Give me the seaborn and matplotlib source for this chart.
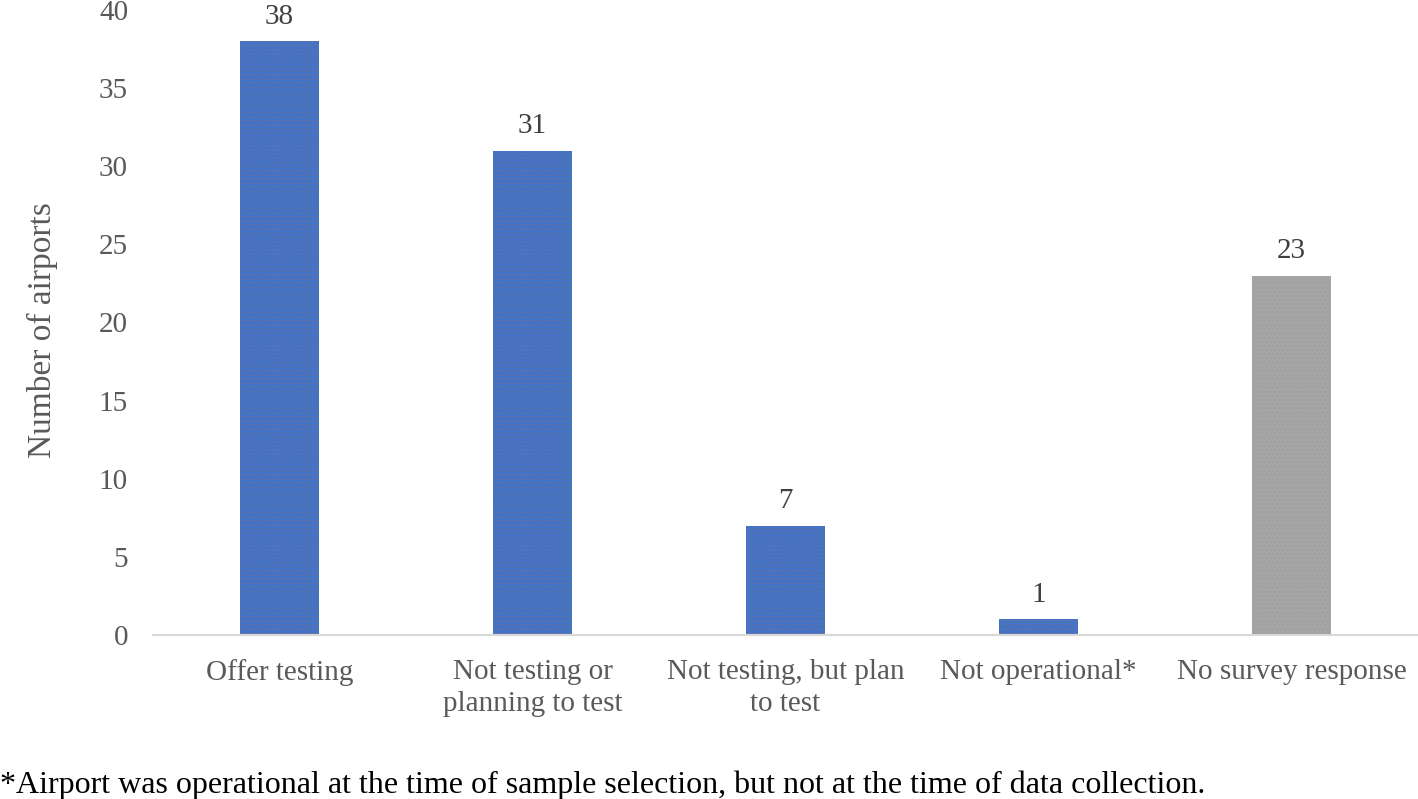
import matplotlib
matplotlib.use("Agg")
import matplotlib.pyplot as plt
import seaborn as sns
import pandas as pd

categories = ["Offer testing", "Not testing or\nplanning to test", "Not testing, but plan\nto test",
              "Not operational*", "No survey response"]
values = [38, 31, 7, 1, 23]
bar_colors = ["#4472C4", "#4472C4", "#4472C4", "#4472C4", "#A5A5A5"]
hatch_colors = ["#6f7590", "#6f7590", "#6f7590", "#6f7590", "#9c9c9c"]
yticks = [0, 5, 10, 15, 20, 25, 30, 35, 40]

sns.set_theme(style="white")
plt.rcParams["font.family"] = ["Liberation Serif", "DejaVu Serif"]
plt.rcParams["hatch.linewidth"] = 0.5

df = pd.DataFrame({"cat": categories, "val": values})

fig = plt.figure(figsize=(14.18, 7.99), dpi=100)
ax = fig.add_axes([153/1418, (799-635)/799, 1 - 153/1418, (635-10)/799])

sns.barplot(data=df, x="cat", y="val", hue="cat", palette=bar_colors, legend=False,
            width=0.316, ax=ax, saturation=1)

for i, p in enumerate(ax.patches):
    p.set_edgecolor(hatch_colors[i])
    p.set_linewidth(0)
    p.set_hatch("....")

ax.set_ylim(0, 40)
ax.set_xlim(-0.5, 4.5)
ax.set_yticks(yticks)
ax.set_yticklabels([str(t) for t in yticks], fontsize=21, color="#595959")
ax.tick_params(axis="x", labelsize=21, colors="#595959", length=0, pad=17)
ax.tick_params(axis="y", length=0, pad=18)
for lab in ax.get_xticklabels():
    lab.set_linespacing(1.3)

for s in ["top", "right", "left"]:
    ax.spines[s].set_visible(False)
ax.spines["bottom"].set_color("#D9D9D9")
ax.spines["bottom"].set_linewidth(1.5)

ax.set_xlabel("")
ax.set_ylabel("Number of airports", fontsize=24, color="#595959", labelpad=29)
ax.yaxis.label.set_y(0.488)

for i, v in enumerate(values):
    ax.text(i, v + 0.75, str(v), ha="center", va="bottom", fontsize=21, color="#404040")

fig.text(0.0, 6/799, "*Airport was operational at the time of sample selection, but not at the time of data collection.",
         ha="left", va="baseline", fontsize=23.0, color="black")

fig.savefig("out.png", dpi=100)
